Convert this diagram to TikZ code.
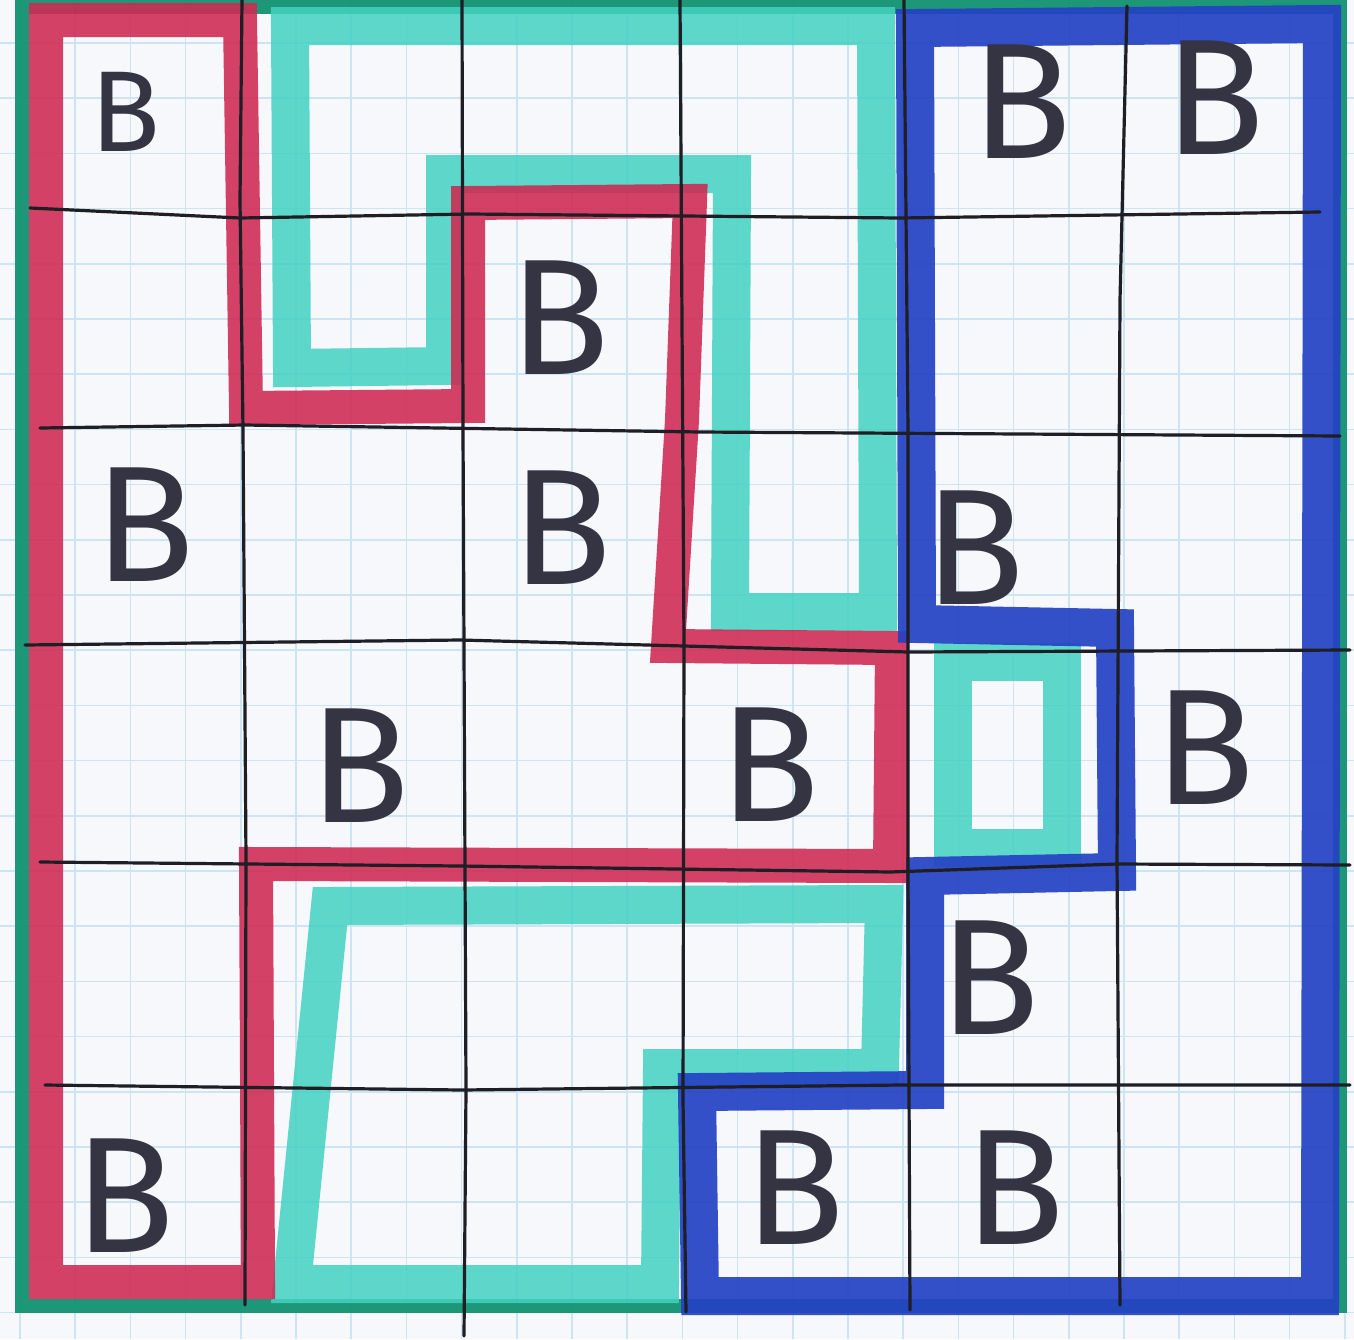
\documentclass[tikz,border=0pt]{standalone}
\usepackage{fontspec}
\setmainfont{Fira Sans}
\definecolor{paper}{RGB}{246,248,251}
\definecolor{gridblue}{RGB}{204,228,243}
\definecolor{mred}{RGB}{208,40,82}
\definecolor{mcyan}{RGB}{66,210,194}
\definecolor{mblue}{RGB}{36,66,196}
\definecolor{mgreen}{RGB}{18,146,114}
\definecolor{ink}{RGB}{30,30,36}
\definecolor{letter}{RGB}{52,52,66}
\begin{document}
\begin{tikzpicture}[x=1pt,y=-1pt,
  graph/.style={draw=gridblue,line width=1.6},
  pen/.style={draw=ink,line width=3.2,line join=round,line cap=round},
  redm/.style={draw=mred,line width=34,opacity=.88,line join=miter,line cap=rect},
  cyanm/.style={draw=mcyan,line width=38,opacity=.85,line join=miter,line cap=rect},
  bluem/.style={draw=mblue,line width=38,opacity=.92,line join=miter,line cap=rect},
  greenm/.style={draw=mgreen,line width=14,opacity=.95,line join=miter},
  bl/.style={text=letter,inner sep=0pt,font=\fontsize{165}{165}\selectfont},
  bls/.style={text=letter,inner sep=0pt,font=\fontsize{115}{115}\selectfont}]
\fill[paper] (0,0) rectangle (1354,1339);
\useasboundingbox (0,0) rectangle (1354,1339);
% graph paper
\foreach \i in {0,...,24} \draw[graph] ({20+55.2*\i},0) -- ++(0,1339);
\foreach \j in {0,...,24} \draw[graph] (0,{-12.2+55.2*\j}) -- ++(1354,0);
% outer green frame
\draw[greenm] (22,7) -- (1340,7) -- (1340,1306) -- (22,1306) -- cycle;
% cyan regions
\draw[cyanm] (290,26) -- (876,26) -- (878,612) -- (730,612) -- (732,174) -- (445,174) -- (445,366) -- (292,368) -- cycle;
\draw[cyanm] (330,906) -- (884,904) -- (880,1068) -- (662,1068) -- (660,1284) -- (292,1284) -- cycle;
\draw[cyanm] (953,662) -- (1062,662) -- (1062,848) -- (953,848) -- cycle;
% red region
\draw[redm] (46,20) -- (240,20) -- (246,408) -- (468,406) -- (468,203) -- (690,201) -- (682,420) -- (668,646) -- (892,648) -- (890,866) -- (256,864) -- (258,1282) -- (46,1282) -- cycle;
% blue region
\draw[bluem] (915,28) -- (1322,24) -- (1320,1296) -- (700,1296) -- (697,1092) -- (925,1090) -- (925,876) -- (1117,872) -- (1115,628) -- (917,624) -- cycle;
% black grid lines
\draw[pen] (242,0) -- (240,200) -- (243,430) -- (246,860) -- (245,1305);
\draw[pen] (462,0) -- (463,430) -- (466,1090) -- (464,1336);
\draw[pen] (680,0) -- (684,645) -- (683,1100) -- (686,1312);
\draw[pen] (904,0) -- (908,430) -- (908,870) -- (910,1310);
\draw[pen] (1127,6) -- (1120,300) -- (1117,860) -- (1120,1305);
\draw[pen] (30,208) -- (240,218) -- (470,214) -- (900,218) -- (1320,212);
\draw[pen] (40,428) -- (245,425) -- (700,432) -- (1340,436);
\draw[pen] (25,645) -- (460,640) -- (908,652) -- (1350,650);
\draw[pen] (40,862) -- (460,866) -- (890,872) -- (1117,864) -- (1350,865);
\draw[pen] (45,1085) -- (462,1090) -- (900,1085) -- (1350,1085);
% letters
\node[bls] (b1) at (125,112) {B};
\node[bl] (b2) at (1022,102) {B};
\node[bl] (b3) at (1215,98) {B};
\node[bl] (b4) at (560,318) {B};
\node[bl] (b5) at (145,525) {B};
\node[bl] (b6) at (562,528) {B};
\node[bl] (b7) at (975,548) {B};
\node[bl] (b8) at (360,766) {B};
\node[bl] (b9) at (770,765) {B};
\node[bl] (b10) at (1205,748) {B};
\node[bl] (b11) at (990,978) {B};
\node[bl] (b12) at (125,1196) {B};
\node[bl] (b13) at (795,1188) {B};
\node[bl] (b14) at (1015,1188) {B};
\end{tikzpicture}
\end{document}
